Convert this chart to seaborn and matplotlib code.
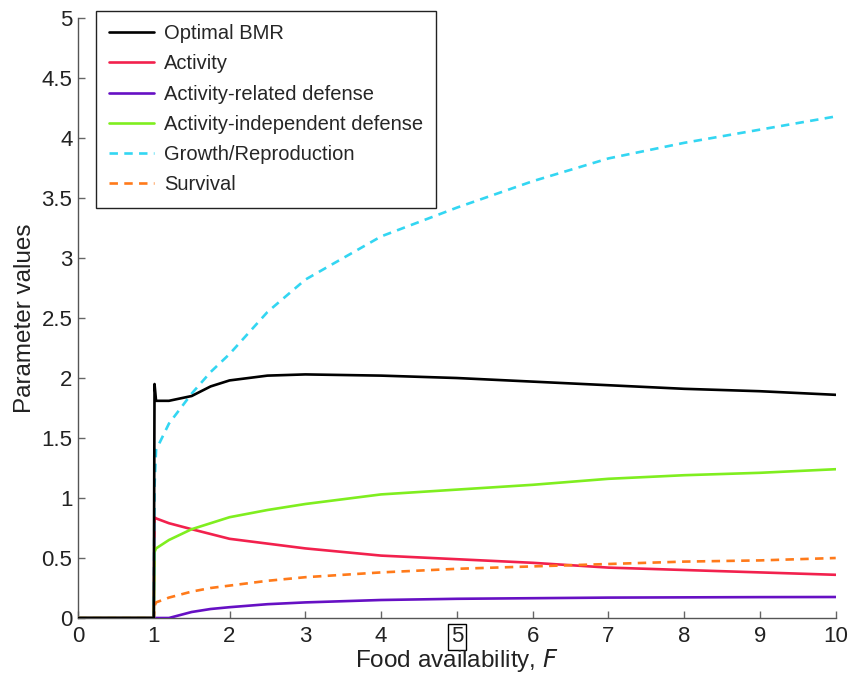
import matplotlib
matplotlib.use("Agg")
import matplotlib.pyplot as plt
import seaborn as sns

# food availability grid
F = [0, 0.5, 1.0, 1.01, 1.03, 1.2, 1.5, 1.75, 2, 2.5, 3, 4, 5, 6, 7, 8, 9, 10]

bmr = [0, 0, 0, 1.95, 1.81, 1.81, 1.85, 1.93, 1.98, 2.02, 2.03, 2.02, 2.0, 1.97, 1.94, 1.91, 1.89, 1.86]
activity = [0, 0, 0, 0.84, 0.83, 0.79, 0.74, 0.70, 0.66, 0.62, 0.58, 0.52, 0.49, 0.46, 0.42, 0.40, 0.38, 0.36]
act_def = [0, 0, 0, 0, 0, 0, 0.05, 0.075, 0.09, 0.115, 0.13, 0.15, 0.16, 0.165, 0.17, 0.172, 0.174, 0.175]
indep_def = [0, 0, 0, 0.55, 0.58, 0.65, 0.74, 0.79, 0.84, 0.90, 0.95, 1.03, 1.07, 1.11, 1.16, 1.19, 1.21, 1.24]
growth = [0, 0, 0, 1.1, 1.4, 1.62, 1.87, 2.05, 2.2, 2.55, 2.82, 3.18, 3.42, 3.64, 3.83, 3.96, 4.07, 4.18]
survival = [0, 0, 0, 0.10, 0.13, 0.17, 0.22, 0.25, 0.27, 0.31, 0.34, 0.38, 0.41, 0.43, 0.45, 0.47, 0.48, 0.50]

labels = ["Optimal BMR", "Activity", "Activity-related defense",
          "Activity-independent defense", "Growth/Reproduction", "Survival"]
series = [bmr, activity, act_def, indep_def, growth, survival]
colors = ["#000000", "#f2214d", "#6610c4", "#7fee1f", "#33d6f2", "#ff7a1a"]
styles = ["-", "-", "-", "-", (0, (3.2, 2.4)), (0, (3.2, 2.4))]
zorders = [10, 3, 3, 3, 3, 3]

sns.set_style("ticks")
plt.rcParams['font.family'] = ['Liberation Sans', 'DejaVu Sans']

fig = plt.figure(figsize=(8.62, 6.76), dpi=100)
ax = fig.add_axes([0.0905, 0.0858, 0.879, 0.8875])

for lab, y, c, ls, z in zip(labels, series, colors, styles, zorders):
    sns.lineplot(x=F, y=y, ax=ax, color=c, linestyle=ls, linewidth=1.9,
                 label=lab, sort=False, estimator=None, zorder=z)

ax.set_xlim(0, 10)
ax.set_ylim(0, 5)
ax.set_xticks(range(0, 11))
ax.set_yticks([0, 0.5, 1, 1.5, 2, 2.5, 3, 3.5, 4, 4.5, 5])
ax.set_yticklabels(["0", "0.5", "1", "1.5", "2", "2.5", "3", "3.5", "4", "4.5", "5"])
ax.tick_params(direction="in", length=5, labelsize=16, width=1, color="#666666",
               labelcolor="#222222")
ax.tick_params(axis="x", pad=6)
ax.tick_params(axis="y", pad=4)
for s in ["top", "right"]:
    ax.spines[s].set_visible(False)
for s in ["left", "bottom"]:
    ax.spines[s].set_color("#555555")
    ax.spines[s].set_linewidth(1)

# boxed tick label at F = 5
for t in ax.get_xticklabels():
    if t.get_text() == "5":
        t.set_bbox(dict(facecolor="white", edgecolor="black", pad=2, linewidth=1))

ax.set_xlabel("Food availability, $\\it{F}$", fontsize=17.5, labelpad=0, color="#222222")
ax.set_ylabel("Parameter values", fontsize=17.5, labelpad=4, color="#222222")

leg = ax.legend(loc="upper left", bbox_to_anchor=(0.1114, 0.984),
                bbox_transform=fig.transFigure, borderaxespad=0,
                fontsize=14.5, frameon=True,
                fancybox=False, edgecolor="#222222", framealpha=1,
                handlelength=2.2, labelspacing=0.56, borderpad=0.66,
                handletextpad=0.5)
leg.get_frame().set_linewidth(1)
leg.set_zorder(20)

fig.savefig("out.png", dpi=100)
